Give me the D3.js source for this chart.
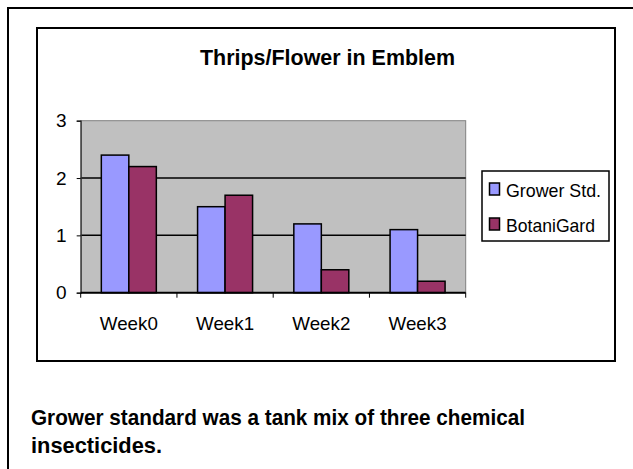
<!DOCTYPE html>
<html>
<head>
<meta charset="utf-8">
<script src="https://cdn.jsdelivr.net/npm/d3@7"></script>
<style>
  html, body { margin: 0; padding: 0; background: #fff; }
  svg { display: block; font-family: "Liberation Sans", Arial, sans-serif; }
</style>
</head>
<body>
<svg id="chart" width="633" height="469"></svg>
<script>
// data
const weeks = ["Week0", "Week1", "Week2", "Week3"];
const seriesNames = ["Grower Std.", "BotaniGard"];
const growerStd = [2.4, 1.5, 1.2, 1.1];
const botaniGard = [2.2, 1.7, 0.4, 0.2];
const yTicks = [0, 1, 2, 3];
const colors = ["#9999FF", "#993366"];

const svg = d3.select("#chart");

// outer frame (top + left only, rest is off-page)
svg.append("path")
  .attr("d", "M8,469 L8,8 L633,8")
  .attr("fill", "none")
  .attr("stroke", "#000")
  .attr("stroke-width", 2);

// chart box
svg.append("rect")
  .attr("x", 37).attr("y", 28)
  .attr("width", 578).attr("height", 333)
  .attr("fill", "#fff")
  .attr("stroke", "#000")
  .attr("stroke-width", 2);

svg.append("text")
  .attr("x", 327.5).attr("y", 65)
  .attr("text-anchor", "middle")
  .attr("font-size", 22)
  .attr("font-weight", "bold")
  .attr("textLength", 255)
  .attr("lengthAdjust", "spacingAndGlyphs")
  .text("Thrips/Flower in Emblem");

const plot = { left: 80.7, right: 465.7, top: 120.7, bottom: 292.7 };

const x0 = d3.scaleBand().domain(weeks).range([plot.left, plot.right]);
const x1 = d3.scaleBand().domain(seriesNames).range([0, x0.bandwidth()]).paddingOuter(0.75);
const y = d3.scaleLinear().domain([0, 3]).range([plot.bottom, plot.top]);

// plot area
svg.append("rect")
  .attr("x", plot.left).attr("y", plot.top)
  .attr("width", plot.right - plot.left).attr("height", plot.bottom - plot.top)
  .attr("fill", "#C0C0C0")
  .attr("stroke", "#808080")
  .attr("stroke-width", 1);

// gridlines
svg.append("g")
  .selectAll("line")
  .data(yTicks.filter(d => d > 0 && d < 3))
  .join("line")
  .attr("x1", plot.left).attr("x2", plot.right)
  .attr("y1", d => y(d)).attr("y2", d => y(d))
  .attr("stroke", "#000")
  .attr("stroke-width", 1.5);

// bars
const rows = weeks.map((w, i) => ({ week: w, values: [growerStd[i], botaniGard[i]] }));
svg.append("g")
  .selectAll("g")
  .data(rows)
  .join("g")
  .attr("transform", d => "translate(" + x0(d.week) + ",0)")
  .selectAll("rect")
  .data(d => d.values.map((v, j) => ({ name: seriesNames[j], value: v, color: colors[j] })))
  .join("rect")
  .attr("x", d => x1(d.name))
  .attr("width", x1.bandwidth())
  .attr("y", d => y(d.value))
  .attr("height", d => y(0) - y(d.value))
  .attr("fill", d => d.color)
  .attr("stroke", "#000")
  .attr("stroke-width", 1.5);

// y axis
const yAxis = d3.axisLeft(y).tickValues(yTicks).tickSize(4).tickPadding(10).tickFormat(d3.format("d"));
const gy = svg.append("g")
  .attr("transform", "translate(" + plot.left + ",0)")
  .call(yAxis);
gy.select(".domain").attr("stroke", "#333").attr("stroke-width", 1.2);
gy.selectAll("text").attr("font-size", 19).attr("fill", "#000")
  .attr("font-family", "Liberation Sans, Arial, sans-serif");

// x axis
const boundaries = weeks.map(w => x0(w)).concat([plot.right]);
const gx = svg.append("g");
gx.append("line")
  .attr("x1", plot.left).attr("x2", plot.right)
  .attr("y1", plot.bottom).attr("y2", plot.bottom)
  .attr("stroke", "#000").attr("stroke-width", 2);
gx.selectAll("line.tick")
  .data(boundaries)
  .join("line")
  .attr("class", "tick")
  .attr("x1", d => d).attr("x2", d => d)
  .attr("y1", plot.bottom).attr("y2", plot.bottom + 5)
  .attr("stroke", "#000").attr("stroke-width", 1);
gx.selectAll("text")
  .data(weeks)
  .join("text")
  .attr("x", d => x0(d) + x0.bandwidth() / 2)
  .attr("y", 329.5)
  .attr("text-anchor", "middle")
  .attr("font-size", 19)
  .attr("textLength", 58)
  .attr("lengthAdjust", "spacingAndGlyphs")
  .text(d => d);

// legend
const legend = svg.append("g").attr("transform", "translate(482,171)");
legend.append("rect")
  .attr("width", 127).attr("height", 70)
  .attr("fill", "#fff").attr("stroke", "#000").attr("stroke-width", 1.5);
const item = legend.selectAll("g.item")
  .data(seriesNames)
  .join("g")
  .attr("class", "item")
  .attr("transform", (d, i) => "translate(0," + (i * 35) + ")");
item.append("rect")
  .attr("x", 7.5).attr("y", 12).attr("width", 10).attr("height", 12)
  .attr("fill", (d, i) => colors[i])
  .attr("stroke", "#000").attr("stroke-width", 1.5);
item.append("text")
  .attr("x", 24).attr("y", 25.5)
  .attr("font-size", 19)
  .attr("textLength", (d, i) => i === 0 ? 95 : 89)
  .attr("lengthAdjust", "spacingAndGlyphs")
  .text(d => d);

// note below chart
const note = ["Grower standard was a tank mix of three chemical", "insecticides."];
svg.append("g").selectAll("text")
  .data(note)
  .join("text")
  .attr("x", 31)
  .attr("y", (d, i) => 425 + i * 28)
  .attr("font-size", 22)
  .attr("font-weight", "bold")
  .attr("textLength", (d, i) => i === 0 ? 494 : 131)
  .attr("lengthAdjust", "spacingAndGlyphs")
  .text(d => d);
</script>
</body>
</html>
